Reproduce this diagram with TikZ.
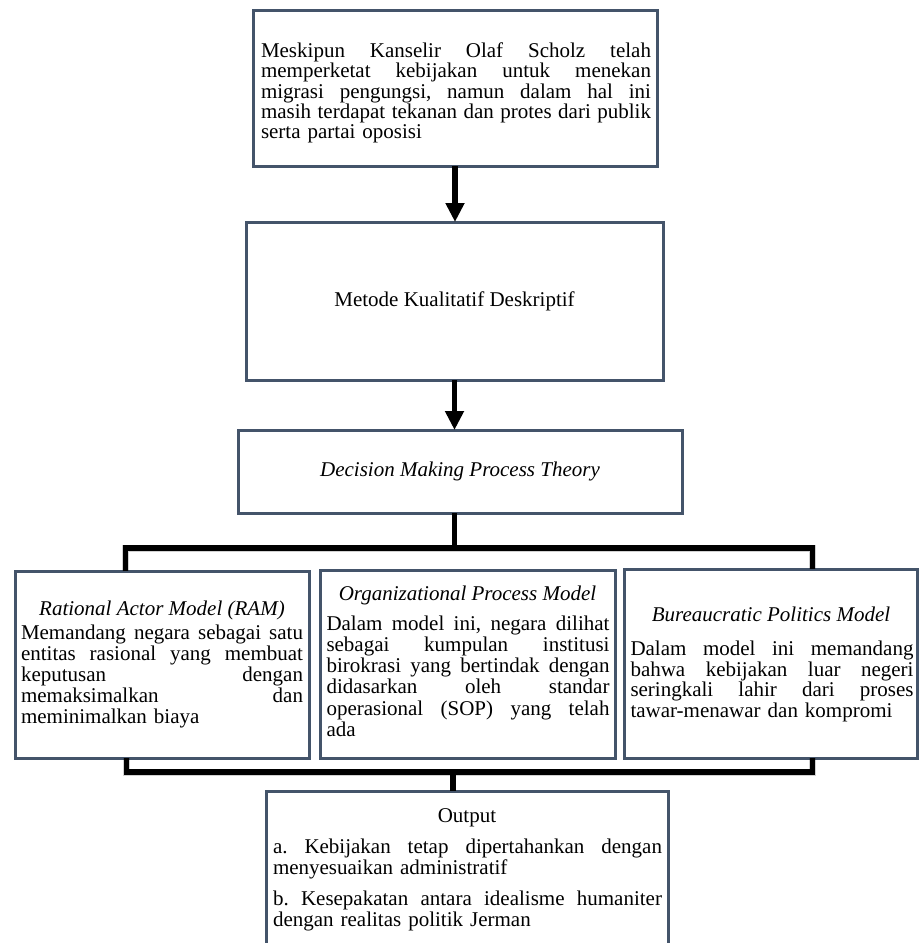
\documentclass[tikz,border=0pt]{standalone}
\usepackage{fontspec}
\setmainfont{Liberation Serif}
\usetikzlibrary{arrows.meta}
\definecolor{slate}{HTML}{44546A}
\newcommand{\jline}[2]{{\spaceskip=5.25pt plus 30pt minus 1pt\relax\hbox to #1{#2}}\par}
\frenchspacing
\tikzset{
  every node/.style={font=\fontsize{21}{21}\selectfont},
  box/.style={draw=slate, line width=3pt, outer sep=0pt, inner sep=0pt, fill=white},
  txt/.style={inner sep=0pt, outer sep=0pt},
  conn/.style={line width=5.5pt, draw=black},
  connshadow/.style={line width=7pt, draw=black, opacity=0.18},
  arr/.style={line width=5.5pt, draw=black, -{Triangle[length=19pt,width=18pt]}},
}
\begin{document}
\begin{tikzpicture}[x=1pt,y=-1pt]
\useasboundingbox (0,0) rectangle (919,943);
\clip (0,0) rectangle (919,943);
\fill[white] (0,0) rectangle (919,943);

% connector coordinates
\coordinate (ul) at (125.5,548);
\coordinate (um) at (454.5,548);
\coordinate (ur) at (812.5,548);
\coordinate (ll) at (126.5,772);
\coordinate (lm) at (453,772);
\coordinate (lr) at (812.5,772);

% boxes
\node[box, minimum width=404pt, minimum height=156pt] (b1) at (455,88) {};
\node[box, minimum width=417pt, minimum height=158pt] (b2) at (454.5,301) {Metode Kualitatif Deskriptif};
\node[box, minimum width=444pt, minimum height=83pt] (b3) at (460,471.5) {\itshape Decision Making Process Theory};
\node[box, minimum width=294pt, minimum height=187pt] (ram) at (162,664.5) {};
\node[box, minimum width=295pt, minimum height=188pt] (opm) at (467.5,664) {};
\node[box, minimum width=293pt, minimum height=189pt] (bpm) at (770.5,663.5) {};
\node[box, minimum width=402pt, minimum height=170pt] (out) at (467,876) {};

% connector shadows
\begin{scope}[shift={(1.5,2.5)}]
\draw[connshadow] (ram.north -| ul) -- (ul) -- (ur) -- (bpm.north -| ur);
\draw[connshadow] (ram.south -| ll) -- (ll) -- (lr) -- (bpm.south -| lr);
\end{scope}

% connectors
\draw[arr] (b1.south) -- (b1.south |- b2.north);
\draw[arr] (b2.south) -- (b2.south |- b3.north);
\draw[conn] (b3.south -| um) -- (um);
\draw[conn] (ram.north -| ul) -- (ul) -- (ur) -- (bpm.north -| ur);
\draw[conn] (ram.south -| ll) -- (ll) -- (lr) -- (bpm.south -| lr);
\draw[conn] (lm) -- (out.north -| lm);

% texts
\node[txt, text width=390pt, anchor=base west, font=\fontsize{21}{20.2}\selectfont] (b1t) at (261,57.7)
 {\jline{390pt}{Meskipun Kanselir Olaf Scholz telah}\jline{390pt}{memperketat kebijakan untuk menekan}\jline{390pt}{migrasi pengungsi, namun dalam hal ini}\jline{390pt}{masih terdapat tekanan dan protes dari publik}serta partai oposisi};

\node[txt, anchor=base] (ramh) at (162,615) {\itshape Rational Actor Model (RAM)};
\node[txt, text width=282pt, anchor=base west] (ramb) at (21,639)
 {\jline{282pt}{Memandang negara sebagai satu}\jline{282pt}{entitas rasional yang membuat}\jline{282pt}{keputusan dengan}\jline{282pt}{memaksimalkan dan}meminimalkan biaya};

\node[txt, anchor=base] (opmh) at (467.5,600) {\itshape Organizational Process Model};
\node[txt, text width=283pt, anchor=base west, font=\fontsize{21}{21.3}\selectfont] (opmb) at (326.5,630)
 {\jline{283pt}{Dalam model ini, negara dilihat}\jline{283pt}{sebagai kumpulan institusi}\jline{283pt}{birokrasi yang bertindak dengan}\jline{283pt}{didasarkan oleh standar}\jline{283pt}{operasional (SOP) yang telah}ada};

\node[txt, anchor=base] (bpmh) at (771,621) {\itshape Bureaucratic Politics Model};
\node[txt, text width=283pt, anchor=base west, font=\fontsize{21}{20.6}\selectfont] (bpmb) at (630.5,655.5)
 {\jline{283pt}{Dalam model ini memandang}\jline{283pt}{bahwa kebijakan luar negeri}\jline{283pt}{seringkali lahir dari proses}tawar-menawar dan kompromi};

\node[txt, anchor=base] (outh) at (467,822) {Output};
\node[txt, text width=389pt, anchor=base west] (outa) at (273,853)
 {\jline{389pt}{a. Kebijakan tetap dipertahankan dengan}menyesuaikan administratif};
\node[txt, text width=389pt, anchor=base west] (outb) at (273,905)
 {\jline{389pt}{b. Kesepakatan antara idealisme humaniter}dengan realitas politik Jerman};
\end{tikzpicture}
\end{document}
